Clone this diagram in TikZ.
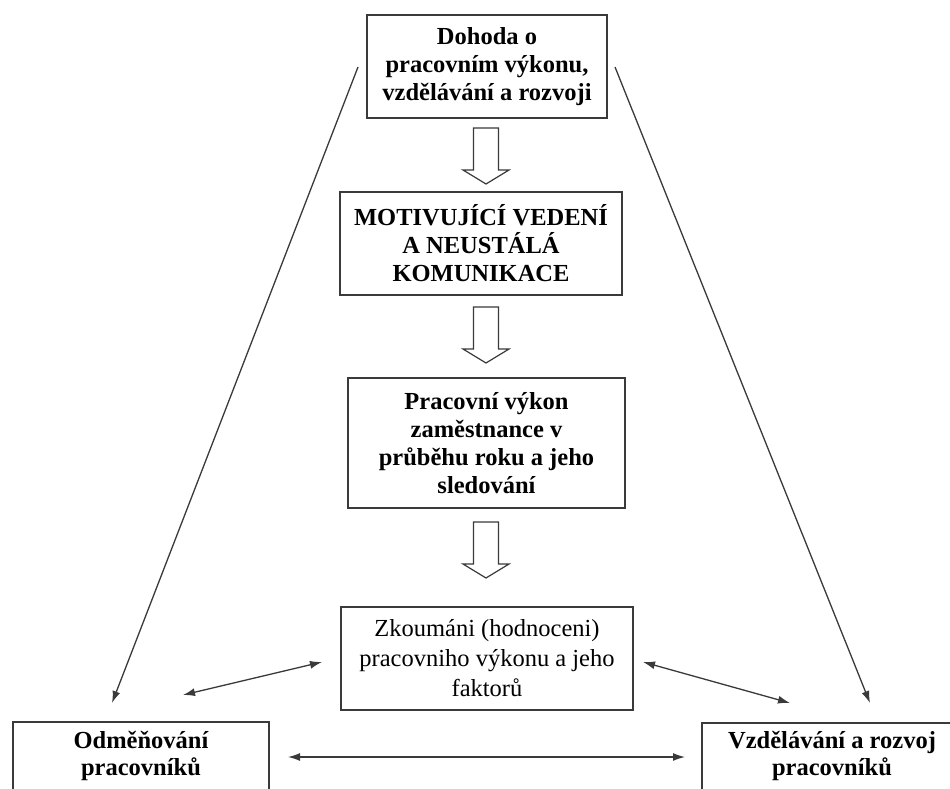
\documentclass[tikz,border=0pt]{standalone}
\usepackage{fontspec}
\setmainfont{Liberation Serif}
\usetikzlibrary{arrows.meta}
\definecolor{edge}{HTML}{3A3A3A}
\tikzset{
  box/.style={draw=edge, line width=1.6pt, align=center, inner sep=0pt,
    font=\fontsize{24.5}{28}\selectfont\bfseries},
  plainbox/.style={box, font=\fontsize{24.5}{30}\selectfont},
  lbl/.style={align=center, inner sep=0pt, font=\fontsize{24.5}{27}\selectfont\bfseries},
  arr/.style={draw=edge, line width=1.3pt, -{Latex[length=12pt,width=8pt]}},
  darr/.style={draw=edge, line width=1.3pt, {Latex[length=12pt,width=8pt]}-{Latex[length=12pt,width=8pt]}},
  blockarrow/.style={draw=edge, line width=1.2pt, fill=white, line join=miter}
}
\begin{document}
\begin{tikzpicture}[x=1pt, y=-1pt]
\useasboundingbox (0,0) rectangle (950,789);
\clip (0,0) rectangle (950,789);
\fill[white] (0,0) rectangle (950,789);

\node[box, minimum width=240pt, minimum height=103pt] (b1) at (487,66.5)
  {Dohoda o\\pracovním výkonu,\\vzdělávání a rozvoji};
\node[box, minimum width=282pt, minimum height=103pt] (b2) at (481,243.5)
  {MOTIVUJÍCÍ VEDENÍ\\A NEUSTÁLÁ\\KOMUNIKACE};
\node[box, minimum width=277pt, minimum height=130pt] (b3) at (486.5,443)
  {Pracovní výkon\\zaměstnance v\\průběhu roku a jeho\\sledování};
\node[plainbox, minimum width=292pt, minimum height=103pt] (b4) at (487,658.5)
  {Zkoumáni (hodnoceni)\\pracovniho výkonu a jeho\\faktorů};
\node[box, minimum width=256pt, minimum height=80pt] (bl) at (141,762) {};
\node[lbl] (blt) at (141,756) {Odměňování\\pracovníků};
\node[box, minimum width=500pt, minimum height=80pt] (br) at (952,763) {};
\node[lbl] (brt) at (832,756) {Vzdělávání a rozvoj\\pracovníků};

% block arrows
\foreach \t/\n in {128/a1, 307/a2, 522/a3}{
  \draw[blockarrow] (473.5,\t) -- (498.5,\t) -- (498.5,\t+42) -- (509,\t+42)
    -- (486,\t+56) -- (463,\t+42) -- (473.5,\t+42) -- cycle;
}

% long lines
\coordinate (ls) at (358,67);
\coordinate (le) at (112,703);
\coordinate (rs) at (615,67);
\coordinate (re) at (870,703);
\draw[arr] (ls) -- (le);
\draw[arr] (rs) -- (re);

% double arrows
\coordinate (dl1) at (183,695);
\coordinate (dl2) at (322,662);
\coordinate (dr1) at (643,662);
\coordinate (dr2) at (790,703);
\coordinate (h1) at (288,757);
\coordinate (h2) at (685,757);
\draw[darr] (dl1) -- (dl2);
\draw[darr] (dr1) -- (dr2);
\draw[darr] (h1) -- (h2);
\end{tikzpicture}
\end{document}
